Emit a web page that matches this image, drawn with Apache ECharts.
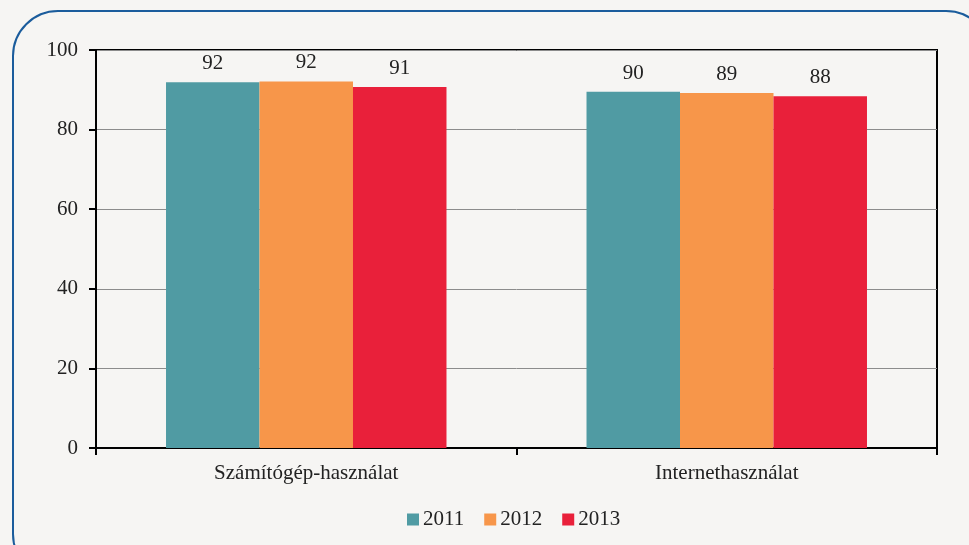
<!DOCTYPE html>
<html>
<head>
<meta charset="utf-8">
<script src="https://cdn.jsdelivr.net/npm/echarts@6/dist/echarts.min.js"></script>
<style>
  html, body { margin: 0; padding: 0; background: #f6f5f3; overflow: hidden; }
  #frame {
    position: absolute; left: 12px; top: 10px; width: 980px; height: 570px;
    border: 2px solid #1b5c9c; border-radius: 46px; box-sizing: border-box;
  }
  #chart { position: absolute; left: 0; top: 0; width: 969px; height: 545px; }
</style>
</head>
<body>
<div id="frame"></div>
<div id="chart"></div>
<script>
const categories = ["Számítógép-használat", "Internethasználat"];
const years = ["2011", "2012", "2013"];
const values2011 = [91.9, 89.5];
const values2012 = [92.1, 89.2];
const values2013 = [90.7, 88.4];
const yTicks = [0, 20, 40, 60, 80, 100];

const colors = ["#509ba3", "#f7964a", "#e9203a"];
const font = "'Liberation Serif', 'DejaVu Serif', serif";

let chartDom = document.getElementById("chart");
let myChart = echarts.init(chartDom);

const seriesData = [values2011, values2012, values2013];
const series = years.map(function (y, i) {
  return {
    name: y,
    type: "bar",
    data: seriesData[i],
    barGap: "0%",
    barCategoryGap: "33.3%",
    itemStyle: { color: colors[i] },
    label: {
      show: true,
      position: "top",
      distance: 8,
      color: "#222",
      fontFamily: font,
      fontSize: 21,
      formatter: function (p) { return Math.round(p.value); }
    }
  };
});

let option = {
  backgroundColor: "transparent",
  color: colors,
  textStyle: { fontFamily: font },
  grid: {
    left: 96, right: 32, top: 50, bottom: 97,
    show: true, borderColor: "#000", borderWidth: 2, backgroundColor: "transparent"
  },
  // legend sits centred under the plot area, not the whole canvas
  legend: {
    data: years,
    bottom: 10,
    left: 402,
    itemWidth: 12, itemHeight: 12, itemGap: 20,
    icon: "rect",
    textStyle: { fontFamily: font, fontSize: 21, color: "#222", padding: [0, 0, 0, -1] }
  },
  xAxis: {
    type: "category",
    data: categories,
    axisLine: { lineStyle: { color: "#000", width: 2 } },
    axisTick: { show: true, length: 7, lineStyle: { color: "#000", width: 2 } },
    axisLabel: { fontFamily: font, fontSize: 21, color: "#222", margin: 15 }
  },
  yAxis: {
    type: "value",
    min: yTicks[0],
    max: yTicks[yTicks.length - 1],
    interval: 20,
    axisLine: { show: true, lineStyle: { color: "#000", width: 2 } },
    axisTick: { show: true, length: 7, lineStyle: { color: "#000", width: 2 } },
    axisLabel: { fontFamily: font, fontSize: 21, color: "#222", margin: 18 },
    splitLine: { show: true, lineStyle: { color: "#8c8c8c", width: 1 } }
  },
  series: series
};

myChart.setOption(option);
</script>
</body>
</html>
